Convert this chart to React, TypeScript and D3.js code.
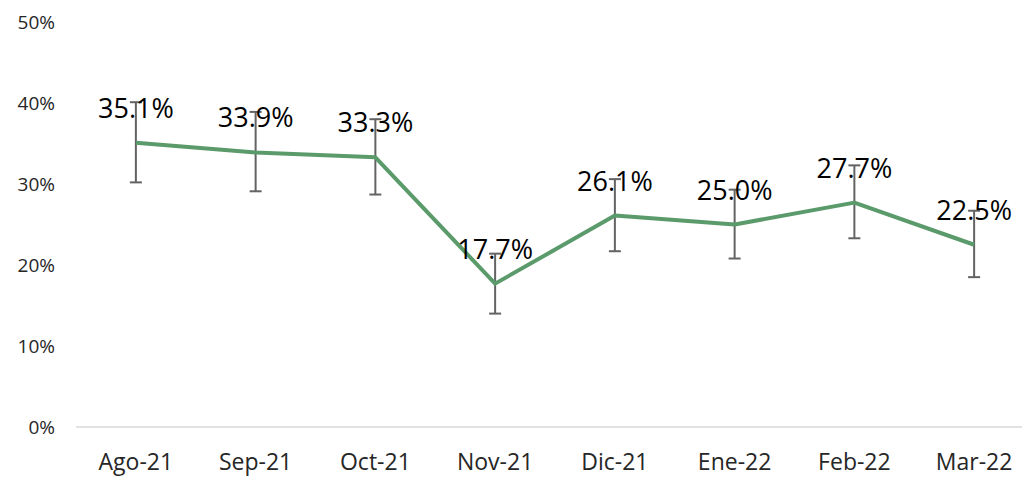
import React, { useEffect, useRef } from 'react';
import * as d3 from 'd3';

const months = ['Ago-21', 'Sep-21', 'Oct-21', 'Nov-21', 'Dic-21', 'Ene-22', 'Feb-22', 'Mar-22'];
const values = [35.1, 33.9, 33.3, 17.7, 26.1, 25.0, 27.7, 22.5];
const upper = [40.1, 38.9, 38.0, 21.4, 30.6, 29.3, 32.3, 26.7];
const lower = [30.2, 29.1, 28.7, 14.0, 21.7, 20.8, 23.3, 18.5];
const yTicks = [0, 10, 20, 30, 40, 50];

const App = () => {
    const svgRef = useRef<SVGSVGElement>(null);

    useEffect(() => {
        const svg = d3.select(svgRef.current);
        const width = 1022;
        const height = 479;

        svg.selectAll('*').remove();
        svg.attr('width', width).attr('height', height);

        const x = d3.scaleBand<string>()
            .domain(months)
            .range([76, 1034]);

        const y = d3.scaleLinear()
            .domain([0, 50])
            .range([427, 22]);

        const cx = (m: string) => (x(m) as number) + x.bandwidth() / 2;

        // y tick labels (no gridlines)
        svg.append('g')
            .selectAll('text')
            .data(yTicks)
            .enter().append('text')
            .attr('x', 55)
            .attr('y', d => y(d))
            .attr('dy', '0.35em')
            .attr('text-anchor', 'end')
            .style('font-family', '"Open Sans", sans-serif')
            .style('font-size', '19px')
            .style('fill', '#262626')
            .text(d => `${d}%`);

        // baseline
        svg.append('line')
            .attr('x1', 76)
            .attr('x2', 1022)
            .attr('y1', y(0))
            .attr('y2', y(0))
            .style('stroke', '#d9d9d9')
            .style('stroke-width', 1.5);

        // x labels
        svg.append('g')
            .selectAll('text')
            .data(months)
            .enter().append('text')
            .attr('x', d => cx(d))
            .attr('y', 470)
            .attr('text-anchor', 'middle')
            .style('font-family', '"Open Sans", sans-serif')
            .style('font-size', '23px')
            .style('fill', '#262626')
            .text(d => d);

        // error bars
        const eb = svg.append('g')
            .style('stroke', '#636363')
            .style('stroke-width', 2);
        months.forEach((m, i) => {
            const px = cx(m);
            eb.append('line')
                .attr('x1', px).attr('x2', px)
                .attr('y1', y(upper[i])).attr('y2', y(lower[i]));
            eb.append('line')
                .attr('x1', px - 6).attr('x2', px + 6)
                .attr('y1', y(upper[i])).attr('y2', y(upper[i]));
            eb.append('line')
                .attr('x1', px - 6).attr('x2', px + 6)
                .attr('y1', y(lower[i])).attr('y2', y(lower[i]));
        });

        // line
        const line = d3.line<number>()
            .x((_, i) => cx(months[i]))
            .y(d => y(d));

        svg.append('path')
            .datum(values)
            .attr('d', line)
            .style('fill', 'none')
            .style('stroke', '#5b9a6a')
            .style('stroke-width', 4)
            .style('stroke-linejoin', 'round');

        // data labels
        svg.append('g')
            .selectAll('text')
            .data(values)
            .enter().append('text')
            .attr('x', (_, i) => cx(months[i]))
            .attr('y', d => y(d) - 25)
            .attr('text-anchor', 'middle')
            .style('font-family', '"Open Sans", sans-serif')
            .style('font-size', '27px')
            .style('fill', '#000')
            .text(d => `${d.toFixed(1)}%`);
    }, []);

    return (
        <svg ref={svgRef} style={{ position: 'absolute', left: 0, top: 0, display: 'block' }}></svg>
    );
};

export default App;
